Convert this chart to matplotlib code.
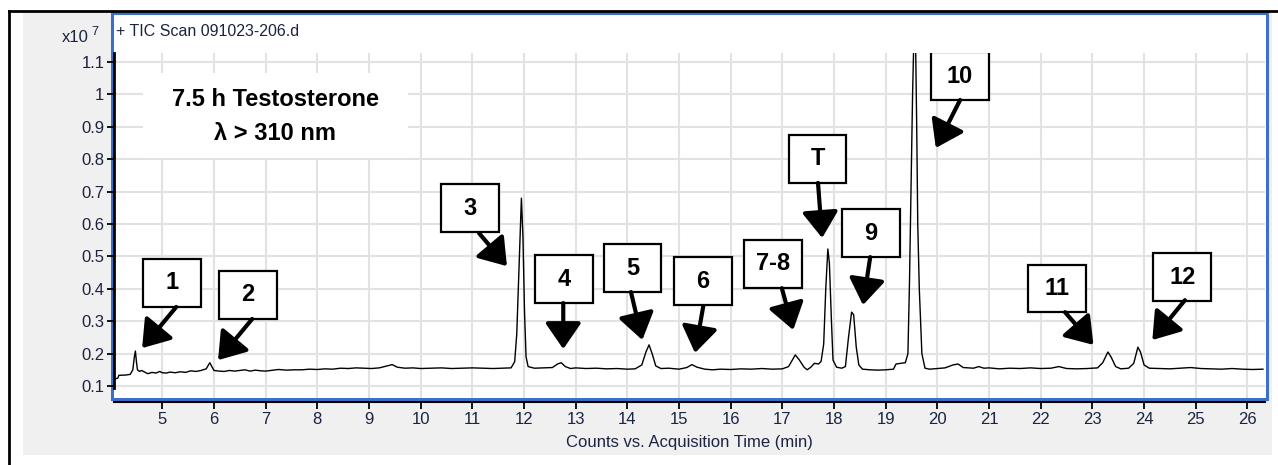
import matplotlib
matplotlib.use("Agg")
from matplotlib import pyplot as plt
from matplotlib.patches import Rectangle
from matplotlib.lines import Line2D

plt.rcParams['font.family'] = ['Liberation Sans', 'DejaVu Sans']

# chromatogram trace (min, counts x10^7)
time = [4.07, 4.14, 4.16, 4.30, 4.38, 4.43, 4.46, 4.48, 4.50, 4.52, 4.56, 4.60,
        4.66, 4.72, 4.80, 4.88, 4.95, 5.00, 5.08, 5.15, 5.25, 5.35, 5.45, 5.55,
        5.65, 5.75, 5.85, 5.92, 5.96, 6.00, 6.10, 6.20, 6.30, 6.40, 6.50, 6.60,
        6.70, 6.80, 6.90, 7.00, 7.10, 7.25, 7.40, 7.55, 7.70, 7.85, 8.00, 8.15,
        8.30, 8.45, 8.60, 8.75, 8.90, 9.05, 9.20, 9.35, 9.45, 9.55, 9.70, 9.85,
        10.00, 10.20, 10.40, 10.60, 10.80, 11.00, 11.20, 11.40, 11.60, 11.75,
        11.82, 11.86, 11.90, 11.93, 11.95, 11.98, 12.01, 12.04, 12.08, 12.20,
        12.40, 12.55, 12.65, 12.72, 12.80, 12.90, 13.00, 13.20, 13.40, 13.60,
        13.80, 14.00, 14.15, 14.28, 14.36, 14.42, 14.48, 14.55, 14.65, 14.80,
        15.00, 15.15, 15.25, 15.35, 15.50, 15.65, 15.80, 16.00, 16.20, 16.40,
        16.60, 16.80, 17.00, 17.12, 17.25, 17.33, 17.42, 17.48, 17.55, 17.62,
        17.70, 17.75, 17.80, 17.84, 17.88, 17.91, 17.95, 17.98, 18.05, 18.15,
        18.22, 18.28, 18.34, 18.38, 18.43, 18.48, 18.55, 18.70, 18.85, 19.00,
        19.15, 19.20, 19.38, 19.43, 19.46, 19.49, 19.52, 19.54, 19.58, 19.60,
        19.62, 19.65, 19.70, 19.76, 19.85, 20.00, 20.15, 20.30, 20.40, 20.50,
        20.70, 20.80, 20.90, 21.00, 21.20, 21.40, 21.60, 21.80, 22.00, 22.20,
        22.35, 22.50, 22.70, 22.90, 23.10, 23.20, 23.30, 23.36, 23.45, 23.55,
        23.70, 23.80, 23.88, 23.93, 24.00, 24.10, 24.30, 24.50, 24.70, 24.90,
        25.10, 25.30, 25.50, 25.70, 25.90, 26.10, 26.30]
counts = [0.122, 0.124, 0.133, 0.134, 0.136, 0.150, 0.190, 0.208, 0.175, 0.150,
          0.145, 0.148, 0.143, 0.138, 0.142, 0.140, 0.145, 0.141, 0.140, 0.143,
          0.141, 0.144, 0.142, 0.147, 0.145, 0.148, 0.153, 0.172, 0.160, 0.148,
          0.146, 0.145, 0.148, 0.146, 0.148, 0.150, 0.146, 0.149, 0.147, 0.146,
          0.148, 0.151, 0.149, 0.150, 0.150, 0.152, 0.151, 0.153, 0.152, 0.155,
          0.154, 0.156, 0.155, 0.154, 0.156, 0.162, 0.166, 0.158, 0.155, 0.156,
          0.154, 0.155, 0.156, 0.154, 0.155, 0.156, 0.155, 0.154, 0.155, 0.156,
          0.175, 0.260, 0.450, 0.600, 0.680, 0.560, 0.330, 0.190, 0.160, 0.155,
          0.156, 0.157, 0.168, 0.172, 0.160, 0.154, 0.156, 0.154, 0.155, 0.153,
          0.154, 0.152, 0.153, 0.165, 0.205, 0.227, 0.200, 0.162, 0.154, 0.155,
          0.152, 0.157, 0.166, 0.158, 0.152, 0.150, 0.152, 0.151, 0.153, 0.152,
          0.154, 0.152, 0.153, 0.160, 0.196, 0.180, 0.158, 0.150, 0.158, 0.170,
          0.168, 0.176, 0.230, 0.400, 0.523, 0.480, 0.300, 0.180, 0.158, 0.155,
          0.160, 0.250, 0.328, 0.320, 0.220, 0.165, 0.152, 0.150, 0.149, 0.150,
          0.152, 0.168, 0.172, 0.200, 0.420, 0.700, 1.000, 1.140, 1.140, 0.900,
          0.600, 0.400, 0.200, 0.155, 0.152, 0.154, 0.156, 0.165, 0.168, 0.157,
          0.155, 0.160, 0.155, 0.156, 0.153, 0.155, 0.154, 0.156, 0.154, 0.155,
          0.160, 0.154, 0.153, 0.154, 0.156, 0.172, 0.205, 0.190, 0.160, 0.153,
          0.155, 0.170, 0.220, 0.205, 0.165, 0.155, 0.154, 0.153, 0.155, 0.157,
          0.154, 0.153, 0.152, 0.154, 0.152, 0.151, 0.152]

# peak labels: text, box centre (min, counts), arrow tail, arrow tip
labels = ['1', '2', '3', '4', '5', '6', '7-8', 'T', '9', '10', '11', '12']
box_t = [5.19, 6.66, 10.96, 12.77, 14.10, 15.46, 16.82, 17.68, 18.71, 20.44, 22.31, 24.74]
box_c = [0.419, 0.381, 0.649, 0.430, 0.464, 0.423, 0.478, 0.802, 0.571, 1.057, 0.401, 0.436]
tail_t = [5.27, 6.74, 11.13, 12.76, 14.07, 15.47, 16.99, 17.69, 18.70, 20.44, 22.47, 24.79]
tail_c = [0.344, 0.307, 0.572, 0.356, 0.390, 0.347, 0.402, 0.727, 0.498, 0.983, 0.328, 0.365]
tip_t = [4.61, 6.08, 11.67, 12.76, 14.29, 15.31, 17.21, 17.77, 18.56, 19.97, 23.02, 24.16]
tip_c = [0.217, 0.180, 0.470, 0.214, 0.242, 0.202, 0.273, 0.557, 0.350, 0.835, 0.227, 0.242]

xticks = list(range(5, 27))
yticks = [0.1, 0.2, 0.3, 0.4, 0.5, 0.6, 0.7, 0.8, 0.9, 1.0, 1.1]
yticklabels = ['0.1', '0.2', '0.3', '0.4', '0.5', '0.6', '0.7', '0.8', '0.9', '1', '1.1']

W, H = 1278, 465


def fx(px):
    return px / W


def fy(py):
    return 1 - py / H


fig = plt.figure(figsize=(W / 100, H / 100), dpi=100)

# frame pieces around the plot
fig.add_artist(Rectangle((fx(23), fy(455)), (1272 - 23) / W, (455 - 12) / H,
                         transform=fig.transFigure, facecolor='#f0f0f0',
                         edgecolor='none', zorder=-3))
fig.add_artist(Rectangle((fx(112), fy(399)), (1267 - 112) / W, (399 - 13) / H,
                         transform=fig.transFigure, facecolor='white',
                         edgecolor='#3c6fc8', lw=2.2, zorder=-2))
fig.add_artist(Line2D([fx(9), fx(9)], [fy(11), 0], color='black', lw=2))
fig.add_artist(Line2D([fx(9), 1], [fy(11), fy(11)], color='black', lw=2))

ax = fig.add_axes([fx(114), fy(398), (1265 - 114) / W, (398 - 53) / H])
ax.plot(time, counts, color='black', lw=1.0, zorder=2)

ax.set_xlim(4.066, 26.34)
ax.set_ylim(0.063, 1.128)
ax.set_xticks(xticks)
ax.set_yticks(yticks)
ax.set_yticklabels(yticklabels)
ax.grid(color='#e2e2e2', lw=1.5)
ax.set_axisbelow(True)

for s in ['top', 'right']:
    ax.spines[s].set_visible(False)
ax.spines['left'].set_linewidth(2)
ax.spines['left'].set_bounds(0.094, 1.128)
ax.spines['bottom'].set_position(('outward', 3))
ax.spines['bottom'].set_linewidth(1.5)
ax.tick_params(axis='both', direction='out', length=5, width=1.3,
               labelsize=12, labelcolor='#1c2340', pad=2)
ax.set_xlabel('Counts vs. Acquisition Time (min)', fontsize=12,
              color='#1c2340', labelpad=5.5)

# header texts
fig.text(fx(116), fy(32), '+ TIC Scan 091023-206.d', fontsize=11.5,
         color='#1c2340', va='center')
fig.text(fx(89), fy(37), 'x10', fontsize=12, color='#1c2340',
         ha='right', va='center')
fig.text(fx(91), fy(32), '7', fontsize=9, color='#1c2340', va='center')

# sample description
ax.add_patch(Rectangle((fx(143), fy(158)), (408 - 143) / W, (158 - 73) / H,
                       transform=fig.transFigure, facecolor='white',
                       edgecolor='none', zorder=1.5))
ax.text(fx(275), fy(99), '7.5 h Testosterone', transform=fig.transFigure,
        fontsize=17, fontweight='bold', ha='center', va='center', zorder=3)
ax.text(fx(275), fy(133), 'λ > 310 nm', transform=fig.transFigure,
        fontsize=17, fontweight='bold', ha='center', va='center', zorder=3)

# peak boxes and arrows
bw, bh = 1.12, 0.148
for i in range(len(labels)):
    ax.add_patch(Rectangle((box_t[i] - bw / 2, box_c[i] - bh / 2), bw, bh,
                           facecolor='white', edgecolor='black', lw=1.6,
                           zorder=4))
    ax.text(box_t[i], box_c[i], labels[i], fontsize=17, fontweight='bold',
            ha='center', va='center', zorder=5)
    ax.annotate('', xy=(tip_t[i], tip_c[i]), xytext=(tail_t[i], tail_c[i]),
                arrowprops=dict(arrowstyle='-|>,head_length=0.8,head_width=0.55',
                                color='black', lw=3, mutation_scale=20,
                                shrinkA=0, shrinkB=0),
                zorder=5)

fig.savefig('out.png', dpi=100)
